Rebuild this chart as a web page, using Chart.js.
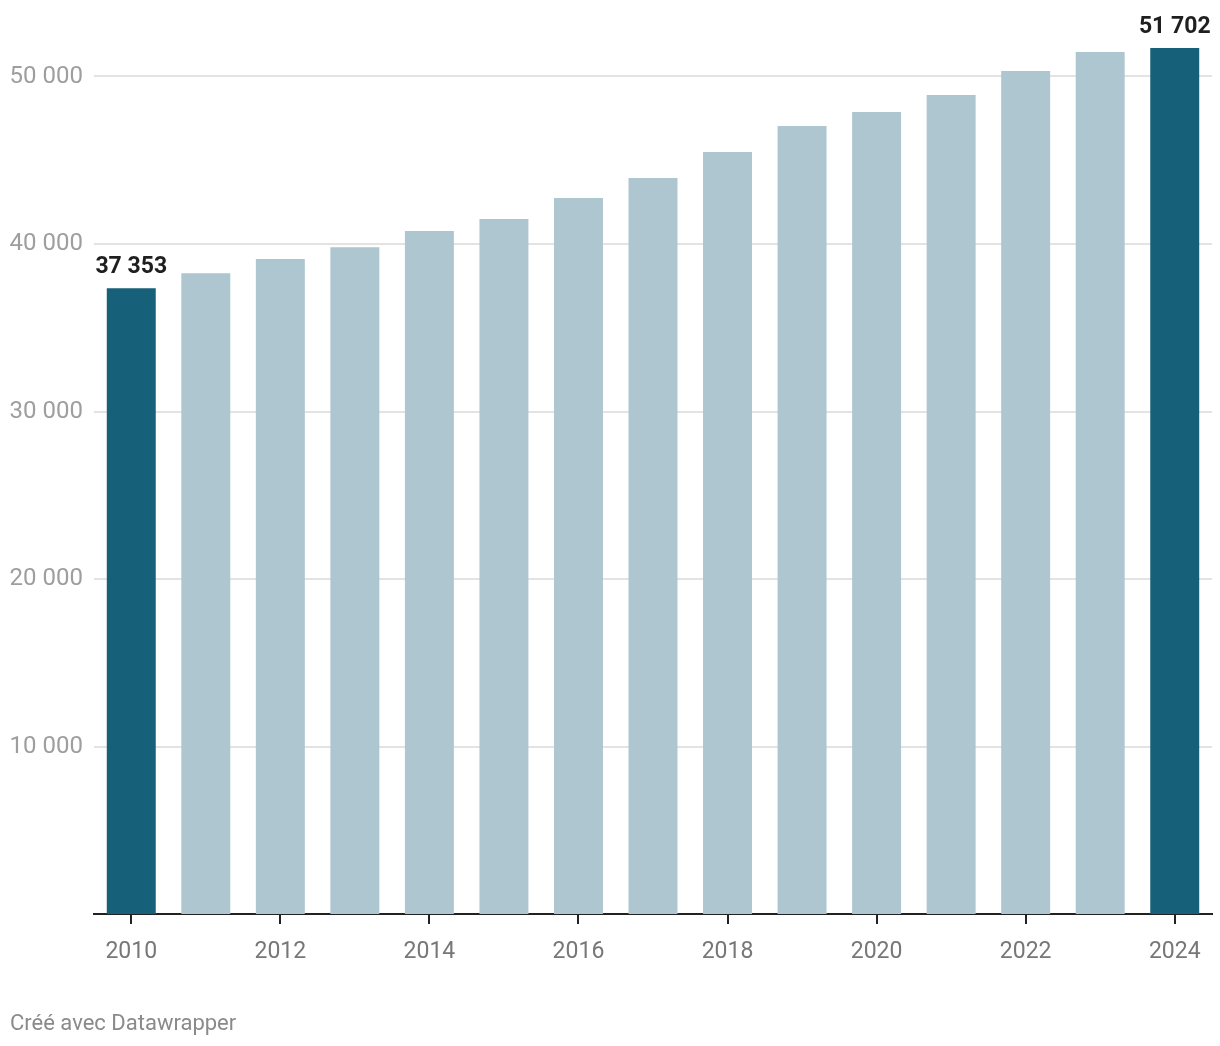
<!DOCTYPE html>
<html>
<head>
<meta charset="utf-8">
<script src="https://cdn.jsdelivr.net/npm/chart.js@4"></script>
<style>
  html, body { margin: 0; padding: 0; background: #fff; }
  #wrap { position: relative; width: 1220px; height: 1046px; }
  #credit { position: absolute; left: 10px; top: 1010px; font: 22px Roboto, sans-serif; color: #8a8a8a; }
</style>
</head>
<body>
<div id="wrap">
  <canvas id="grafica" width="1220" height="1046"></canvas>
  <div id="credit">Créé avec Datawrapper</div>
</div>
<script>
// Données
var annees = ['2010', '2011', '2012', '2013', '2014', '2015', '2016', '2017',
              '2018', '2019', '2020', '2021', '2022', '2023', '2024'];
var valeurs = [37353, 38260, 39100, 39810, 40770, 41490, 42740, 43940,
               45490, 47040, 47880, 48900, 50330, 51460, 51702];
var yTicks = [10000, 20000, 30000, 40000, 50000];
var anneesMarquees = ['2010', '2024'];

var couleurFonce = '#166179';
var couleurClair = '#aec6cf';

function formatNombre(n) {
    return String(n).replace(/\B(?=(\d{3})+(?!\d))/g, ' ');
}

var couleurs = annees.map(function (a) {
    return anneesMarquees.indexOf(a) >= 0 ? couleurFonce : couleurClair;
});

// Étiquettes des valeurs au-dessus des barres foncées
var etiquettesPlugin = {
    id: 'etiquettes',
    afterDatasetsDraw: function (chart) {
        var ctx = chart.ctx;
        var meta = chart.getDatasetMeta(0);
        ctx.save();
        ctx.font = 'bold 23px Roboto, sans-serif';
        ctx.fillStyle = '#1f1f1f';
        ctx.textAlign = 'center';
        ctx.textBaseline = 'alphabetic';
        annees.forEach(function (a, i) {
            if (anneesMarquees.indexOf(a) < 0) return;
            var bar = meta.data[i];
            ctx.fillText(formatNombre(valeurs[i]), bar.x, bar.y - 15);
        });
        ctx.restore();
    }
};

var ctx = document.getElementById('grafica');
new Chart(ctx.getContext('2d'), {
    type: 'bar',
    data: {
        labels: annees,
        datasets: [{
            data: valeurs,
            backgroundColor: couleurs,
            borderWidth: 0,
            categoryPercentage: 1,
            barPercentage: 0.657
        }]
    },
    options: {
        responsive: false,
        animation: false,
        layout: { padding: { top: 43, right: 8, left: 0, bottom: 0 } },
        plugins: {
            legend: { display: false },
            tooltip: { enabled: false }
        },
        scales: {
            x: {
                grid: {
                    offset: false,
                    drawOnChartArea: false,
                    drawTicks: true,
                    tickLength: 10,
                    lineWidth: 2,
                    tickColor: function (c) {
                        return (c.index % 2 === 0) ? '#222' : 'rgba(0,0,0,0)';
                    }
                },
                border: { display: true, color: '#222', width: 2 },
                ticks: {
                    autoSkip: false,
                    maxRotation: 0,
                    padding: 14,
                    color: '#777',
                    font: { family: 'Roboto, sans-serif', size: 23 },
                    callback: function (v, i) {
                        return i % 2 === 0 ? annees[i] : '';
                    }
                },
                afterFit: function (scale) { scale.height = 132; }
            },
            y: {
                min: 0,
                max: 52000,
                afterBuildTicks: function (scale) {
                    scale.ticks = yTicks.map(function (v) { return { value: v }; });
                },
                grid: {
                    color: '#e3e3e3',
                    lineWidth: 2,
                    drawTicks: false
                },
                border: { display: false },
                ticks: {
                    padding: 11,
                    color: '#9e9e9e',
                    font: { family: 'Roboto, sans-serif', size: 24 },
                    callback: function (v) { return formatNombre(v); }
                },
                afterFit: function (scale) { scale.width = 94; }
            }
        }
    },
    plugins: [etiquettesPlugin]
});
</script>
</body>
</html>
